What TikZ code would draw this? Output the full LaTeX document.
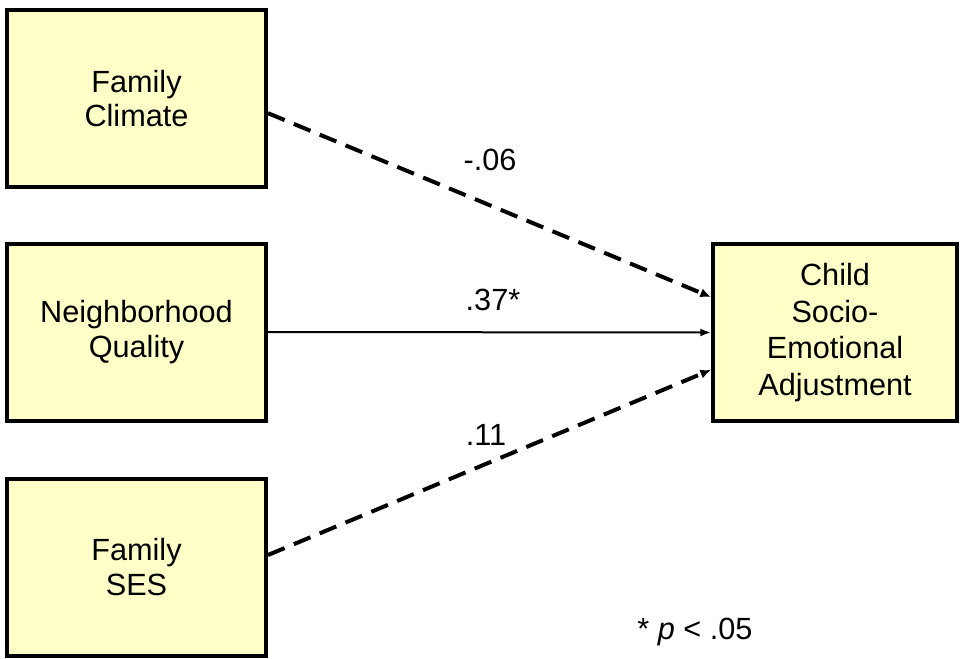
\documentclass[tikz,border=0pt]{standalone}
\usepackage{fontspec}
\setmainfont{Liberation Sans}
\usetikzlibrary{arrows.meta}
\definecolor{boxfill}{RGB}{255,255,200}

\begin{document}
\begin{tikzpicture}[x=0.75pt, y=-0.75pt,
	  font=\fontsize{23}{26}\selectfont,
	  varbox/.style={draw, line width=3pt, fill=boxfill, minimum width=194.25pt,
	    minimum height=132.75pt, align=center, inner sep=0pt},
	  pathdash/.style={line width=3pt, dash pattern=on 13.5pt off 7.5pt,
	    -{Latex[length=8pt,width=7pt]}},
	  pathsolid/.style={line width=1.5pt, -{Latex[length=8pt,width=6pt]}}]
	  \useasboundingbox (0,0) rectangle (961,658);
	  \node[varbox] (climate) at (136.5,98.5) {Family\\Climate};
	  \node[varbox] (hood) at (136.5,332) {Neighborhood\\Quality};
	  \node[varbox] (ses) at (136.5,567) {Family\\SES};
	  \node[varbox, minimum width=183pt, font=\fontsize{23}{27.5}\selectfont] (child)
	    at (835,332.5) {Child\\Socio-\\Emotional\\Adjustment};

	  \draw[pathdash] ([yshift=-11pt]climate.east) -- ([yshift=26.6pt]child.west);
	  \draw[pathsolid] (hood.east) -- (child.west);
	  \draw[pathdash] ([yshift=9pt]ses.east) -- ([yshift=-28pt]child.west);

	  \node (bclimate) at (490,160) {-.06};
	  \node (bhood) at (493,300) {.37*};
	  \node (bses) at (486,435) {.11};
	  \node (note) at (695,632) {* \textit{p} < .05};
	\end{tikzpicture}
\end{document}
